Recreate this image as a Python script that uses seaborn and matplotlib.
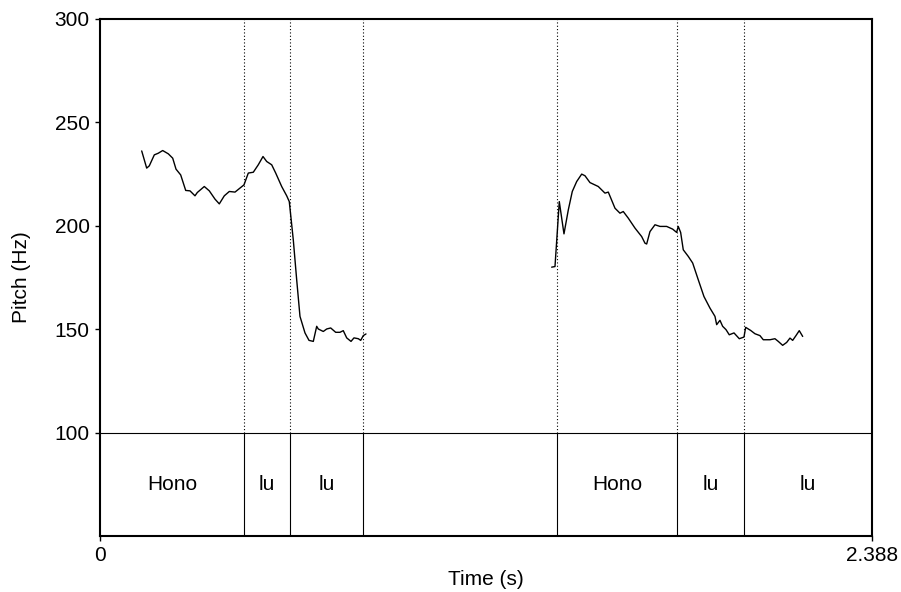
import matplotlib
matplotlib.use("Agg")
import matplotlib.pyplot as plt
import seaborn as sns
import pandas as pd

# pitch contour, first phrase (time in s, pitch in Hz)
t1 = [0.129, 0.1444, 0.1525, 0.168, 0.1803, 0.1939, 0.2113, 0.2249, 0.2351, 0.2496,
      0.2651, 0.2784, 0.2938, 0.301, 0.3226, 0.3381, 0.3557, 0.369, 0.3845, 0.4,
      0.4176, 0.4454, 0.4587, 0.4742, 0.4896, 0.5042, 0.5156, 0.5311, 0.5435, 0.562,
      0.5775, 0.5855, 0.5979, 0.6084, 0.6186, 0.6341, 0.6465, 0.6598, 0.6703, 0.6752,
      0.6907, 0.7012, 0.7136, 0.729, 0.7423, 0.7525, 0.7631, 0.7764, 0.7856, 0.799,
      0.8064, 0.8144, 0.8228]
f1 = [236.2, 227.9, 229.0, 234.3, 235.1, 236.4, 234.8, 232.7, 227.4, 224.6,
      217.1, 216.9, 214.5, 216.1, 219.0, 216.9, 212.9, 210.6, 214.5, 216.6,
      216.3, 219.8, 225.5, 225.9, 229.5, 233.5, 231.1, 229.5, 225.5, 219.0,
      214.5, 211.7, 193.2, 173.9, 156.2, 148.2, 144.6, 144.1, 151.4, 150.1,
      148.9, 150.1, 150.6, 148.5, 148.5, 149.3, 145.8, 144.1, 145.8, 145.4,
      144.6, 146.9, 147.7]

# pitch contour, second phrase
t2 = [1.3971, 1.4074, 1.4207, 1.4352, 1.4486, 1.4609, 1.4745, 1.49, 1.5002, 1.5156,
      1.5413, 1.562, 1.5723, 1.593, 1.6084, 1.6186, 1.6341, 1.6548, 1.6755, 1.6857,
      1.691, 1.7012, 1.7167, 1.7322, 1.7528, 1.7713, 1.7837, 1.7887, 1.7961, 1.8042,
      1.8197, 1.8333, 1.8506, 1.8682, 1.8868, 1.9023, 1.9075, 1.9177, 1.926, 1.9363,
      1.9465, 1.9611, 1.9775, 1.992, 1.9972, 2.0127, 2.026, 2.0414, 2.0517, 2.0724,
      2.0878, 2.0981, 2.1116, 2.124, 2.1343, 2.1426, 2.1528, 2.163, 2.1736]
f2 = [180.0, 180.3, 211.7, 196.1, 207.7, 216.6, 221.4, 225.0, 224.2, 220.9,
      219.0, 215.8, 216.3, 208.5, 206.1, 206.9, 203.7, 198.9, 194.8, 191.6,
      191.2, 197.2, 200.5, 199.7, 199.7, 198.4, 196.8, 199.7, 196.8, 188.4,
      185.2, 182.0, 173.9, 165.8, 160.2, 156.2, 152.2, 154.3, 151.4, 149.8,
      147.3, 148.2, 145.4, 146.2, 150.9, 149.4, 147.8, 146.9, 144.9, 144.9,
      145.4, 144.1, 142.2, 143.6, 145.7, 144.6, 146.9, 149.3, 146.5]

# text grid tier
boundaries = [0.4454, 0.5877, 0.8135, 1.4136, 1.7847, 1.992]
interval_starts = [0.0, 0.4454, 0.5877, 1.4136, 1.7847, 1.992]
interval_ends = [0.4454, 0.5877, 0.8135, 1.7847, 1.992, 2.388]
interval_labels = ["Hono", "lu", "lu", "Hono", "lu", "lu"]

t_end = 2.388

sns.set_style("ticks")
plt.rcParams["font.family"] = ["Liberation Sans", "DejaVu Sans"]
plt.rcParams["font.size"] = 15
plt.rcParams["text.color"] = "black"
plt.rcParams["axes.labelcolor"] = "black"

fig = plt.figure(figsize=(9.01, 5.92), dpi=100)
ax = fig.add_axes([100 / 901, 1 - 536 / 592, 772 / 901, 517 / 592])

df = pd.concat([
    pd.DataFrame({"time": t1, "pitch": f1, "seg": 1}),
    pd.DataFrame({"time": t2, "pitch": f2, "seg": 2}),
])
sns.lineplot(data=df, x="time", y="pitch", units="seg", estimator=None,
             sort=False, color="black", lw=1.0, ax=ax)

ax.vlines(boundaries, 100, 300, colors="black", lw=0.8, linestyles=(0, (1, 2)))
ax.vlines(boundaries, 50, 100, colors="black", lw=0.8)
ax.axhline(100, color="black", lw=0.8)
for a, b, lab in zip(interval_starts, interval_ends, interval_labels):
    ax.text((a + b) / 2, 75, lab, ha="center", va="center", fontsize=15, color="black")

ax.set_xlim(0, t_end)
ax.set_ylim(50, 300)
ax.set_yticks([100, 150, 200, 250, 300])
ax.set_xticks([0, t_end])
ax.set_xticklabels(["0", "2.388"])
ax.tick_params(axis="both", length=3.5, width=1.0, pad=4, labelsize=15, colors="black")
for s in ax.spines.values():
    s.set_linewidth(1.5)
    s.set_color("black")
ax.set_xlabel("Time (s)", fontsize=15, labelpad=3, color="black")
ax.set_ylabel("Pitch (Hz)", fontsize=15, labelpad=17, color="black")

fig.savefig("out.png", dpi=100)
